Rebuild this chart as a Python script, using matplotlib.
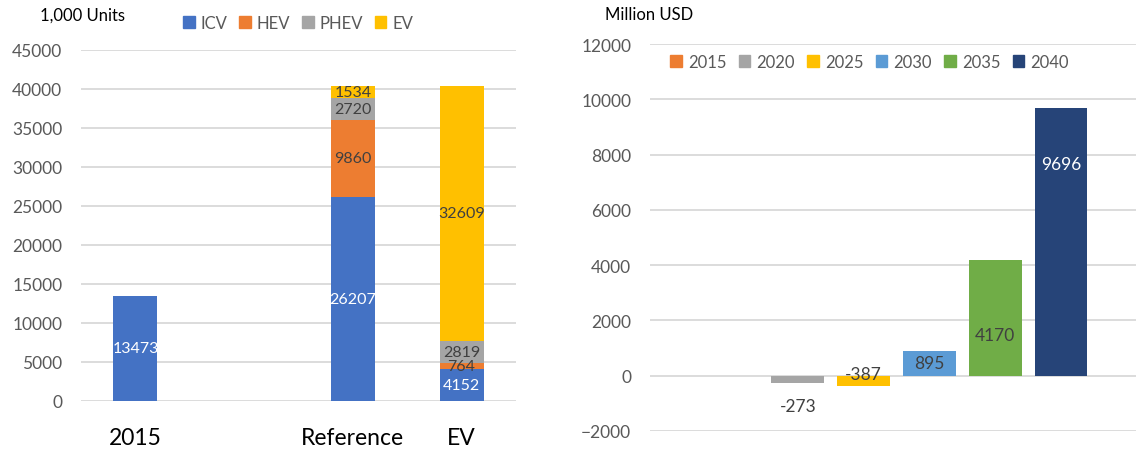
import matplotlib
matplotlib.use("Agg")
import matplotlib.pyplot as plt
import numpy as np
from matplotlib.patches import Patch

plt.rcParams['font.family'] = ['Lato', 'DejaVu Sans']

# ---------------- data ----------------
left_categories = ["2015", "", "Reference", "EV"]
icv = [13473, 0, 26207, 4152]
hev = [0, 0, 9860, 764]
phev = [0, 0, 2720, 2819]
ev = [0, 0, 1534, 32609]
left_series_names = ["ICV", "HEV", "PHEV", "EV"]
left_ticks = [0, 5000, 10000, 15000, 20000, 25000, 30000, 35000, 40000, 45000]

right_years = ["2015", "2020", "2025", "2030", "2035", "2040"]
right_values = [0, -273, -387, 895, 4170, 9696]
right_ticks = [-2000, 0, 2000, 4000, 6000, 8000, 10000, 12000]

# ---------------- style ----------------
left_colors = ["#4472C4", "#ED7D31", "#A5A5A5", "#FFC000"]
left_label_colors = ["white", "#404040", "#404040", "#404040"]
right_colors = ["#ED7D31", "#A5A5A5", "#FFC000", "#5B9BD5", "#70AD47", "#264478"]
right_label_colors = ["#404040", "#404040", "#404040", "#404040", "#404040", "white"]
# label anchor positions (data units) for the right chart labels
right_label_y = [None, -1088, 72, 447, 1487, 7653]

GRID = "#D9D9D9"
TICK = "#595959"

W, H = 1136, 452
fig = plt.figure(figsize=(W / 100, H / 100), dpi=100)


def px_axes(x0, x1, ytop, ybot):
    return fig.add_axes([x0 / W, (H - ybot) / H, (x1 - x0) / W, (ybot - ytop) / H])


def style_axes(ax):
    for s in ax.spines.values():
        s.set_visible(False)
    ax.set_axisbelow(True)
    ax.yaxis.grid(True, color=GRID, linewidth=1.3)
    ax.xaxis.grid(False)
    ax.tick_params(axis='both', length=0)
    ax.tick_params(axis='y', colors=TICK, labelsize=12.5, pad=13.5)


# ---------------- left chart ----------------
axL = px_axes(81, 516, 51, 402)
style_axes(axL)
x = np.arange(len(left_categories))
bw = 0.405
bottom = np.zeros(len(x))
for vals, col, lcol, name in zip([icv, hev, phev, ev], left_colors, left_label_colors, left_series_names):
    vals = np.array(vals, dtype=float)
    axL.bar(x, vals, bw, bottom=bottom, color=col, label=name, zorder=2)
    for xi, v, b in zip(x, vals, bottom):
        if v > 0:
            axL.text(xi, b + v / 2, f"{int(v)}", ha='center', va='center',
                     color=lcol, fontsize=11.5, zorder=3)
    bottom += vals
axL.set_xlim(-0.5, len(x) - 0.5)
axL.set_ylim(0, 45000)
axL.set_yticks(left_ticks)
axL.set_xticks(x)
axL.set_xticklabels(left_categories, fontsize=16.5, color='black')
axL.tick_params(axis='x', pad=19)

handlesL = [Patch(color=c) for c in left_colors]
fig.legend(handlesL, left_series_names, loc='center', bbox_to_anchor=(298 / W, 1 - 24 / H),
           ncol=4, frameon=False, fontsize=12, handlelength=0.7, handleheight=0.7,
           handletextpad=0.35, columnspacing=0.7, labelcolor=TICK, borderaxespad=0,
           borderpad=0)
fig.text(40 / W, 1 - 16 / H, "1,000 Units", fontsize=12, color='black', ha='left', va='center')

# ---------------- right chart ----------------
axR = px_axes(650, 1136, 45, 432)
style_axes(axR)
xr = np.arange(len(right_years))
unit = 65.8
axR.bar(xr, right_values, 0.8, color=right_colors, zorder=2)
for xi, v, ly, lc in zip(xr, right_values, right_label_y, right_label_colors):
    if ly is not None and v != 0:
        axR.text(xi, ly, f"{v}", ha='center', va='center', color=lc, fontsize=12.5, zorder=3)
axR.set_xlim(-(732 - 650) / unit, (1136 - 732) / unit)
axR.set_ylim(-2000, 12000)
axR.set_yticks(right_ticks)
axR.set_xticks([])

handlesR = [Patch(color=c) for c in right_colors]
fig.legend(handlesR, right_years, loc='center', bbox_to_anchor=(869.5 / W, 1 - 63 / H),
           ncol=6, frameon=False, fontsize=12, handlelength=0.7, handleheight=0.7,
           handletextpad=0.35, columnspacing=0.75, labelcolor=TICK, borderaxespad=0,
           borderpad=0)
fig.text(605 / W, 1 - 15 / H, "Million USD", fontsize=12, color='black', ha='left', va='center')

fig.savefig("out.png", dpi=100)
